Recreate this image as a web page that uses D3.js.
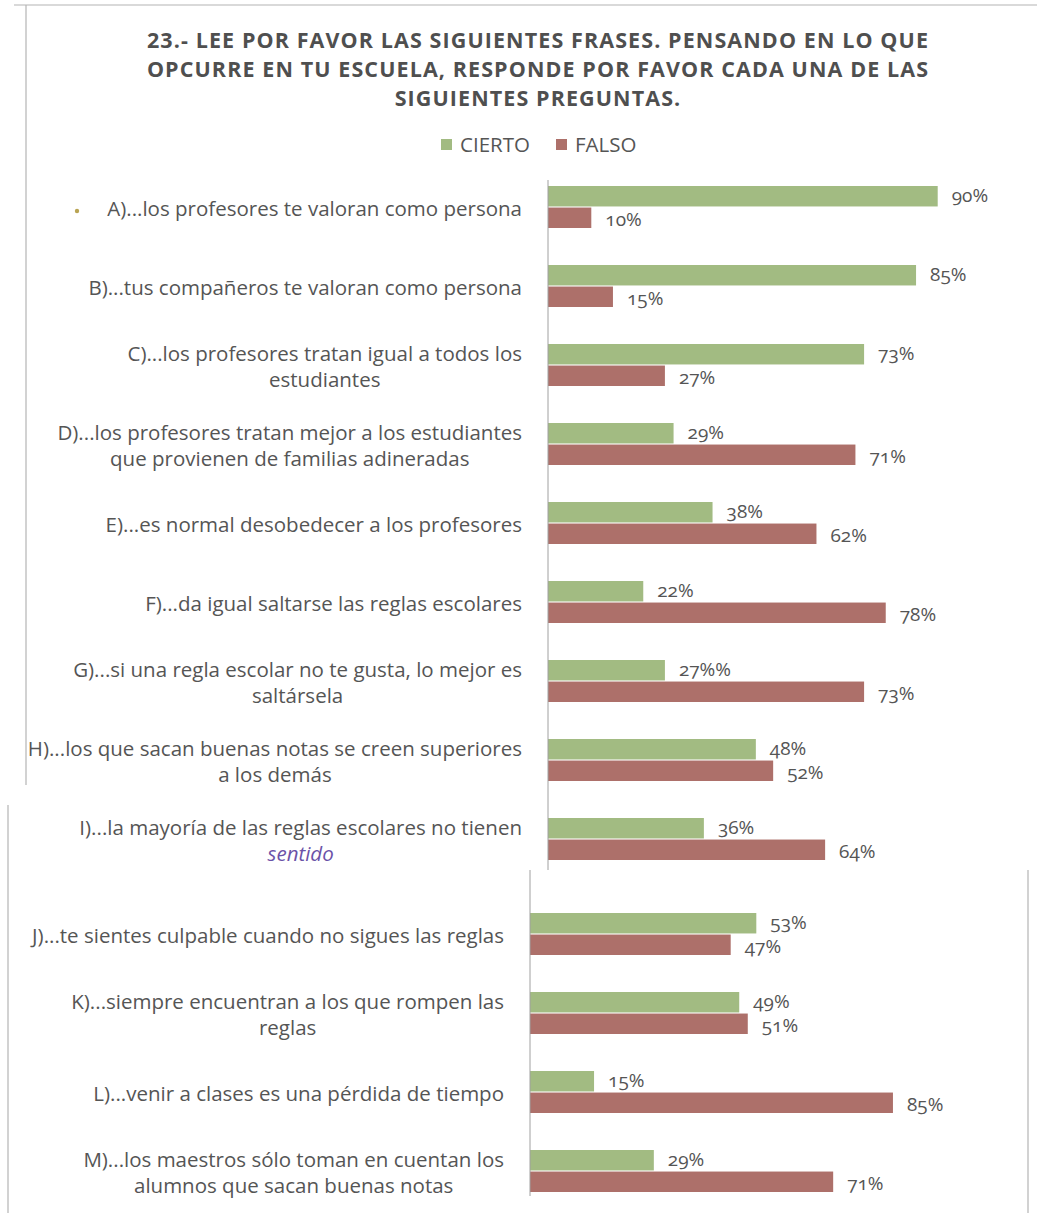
<!DOCTYPE html>
<html>
<head>
<meta charset="utf-8">
<script src="https://cdn.jsdelivr.net/npm/d3@7"></script>
<style>
  html, body { margin: 0; padding: 0; background: #ffffff; }
  svg { display: block; }
  text { font-family: "Open Sans", "Lato", sans-serif; }
</style>
</head>
<body>
<div id="chart"></div>
<script>
// ---------------- DATA ----------------
const titleLines = [
  "23.- LEE POR FAVOR LAS SIGUIENTES FRASES. PENSANDO EN LO QUE",
  "OPCURRE EN TU ESCUELA, RESPONDE POR FAVOR CADA UNA DE LAS",
  "SIGUIENTES PREGUNTAS."
];
const seriesNames = ["CIERTO", "FALSO"];
const categories = ["A","B","C","D","E","F","G","H","I","J","K","L","M"];
const categoryLabels = [
  ["A)...los profesores te valoran como persona"],
  ["B)...tus compañeros te valoran como persona"],
  ["C)...los profesores tratan igual a todos los", "estudiantes"],
  ["D)...los profesores tratan mejor a los estudiantes", "que provienen de familias adineradas"],
  ["E)...es normal desobedecer a los profesores"],
  ["F)...da igual saltarse las reglas escolares"],
  ["G)...si una regla escolar no te gusta, lo mejor es", "saltársela"],
  ["H)...los que sacan buenas notas se creen superiores", "a los demás"],
  ["I)...la mayoría de las reglas escolares no tienen", "sentido"],
  ["J)...te sientes culpable cuando no sigues las reglas"],
  ["K)...siempre encuentran a los que rompen las", "reglas"],
  ["L)...venir a clases es una pérdida de tiempo"],
  ["M)...los maestros sólo toman en cuentan los", "alumnos que sacan buenas notas"]
];
const ciertoValues = [90, 85, 73, 29, 38, 22, 27, 48, 36, 53, 49, 15, 29];
const falsoValues  = [10, 15, 27, 71, 62, 78, 73, 52, 64, 47, 51, 85, 71];
const ciertoLabels = ["90%","85%","73%","29%","38%","22%","27%%","48%","36%","53%","49%","15%","29%"];
const falsoLabels  = ["10%","15%","27%","71%","62%","78%","73%","52%","64%","47%","51%","85%","71%"];
// the scanned page is split in two shifted parts
const upperCats = ["A","B","C","D","E","F","G","H","I"];
const lowerCats = ["J","K","L","M"];

// ---------------- LAYOUT ----------------
const W = 1037, H = 1213;
const colors = { CIERTO: "#a2bb82", FALSO: "#ad706a" };
const textColor = "#555555";

const svg = d3.select("#chart").append("svg")
  .attr("width", W).attr("height", H);

// page frame (scanned sheet borders)
const frame = svg.append("g").attr("stroke", "#b4b4b4").attr("stroke-width", 1.2).attr("fill", "none");
frame.append("line").attr("x1", 14).attr("x2", W).attr("y1", 5).attr("y2", 5);
frame.append("line").attr("x1", 26).attr("x2", 26).attr("y1", 5).attr("y2", 785);
frame.append("line").attr("x1", 8).attr("x2", 8).attr("y1", 805).attr("y2", H);
frame.append("line").attr("x1", 1028).attr("x2", 1028).attr("y1", 870).attr("y2", H);

// title
svg.append("g").selectAll("text").data(titleLines).join("text")
  .attr("x", 538)
  .attr("y", (d, i) => 48 + i * 29)
  .attr("text-anchor", "middle")
  .attr("fill", "#4f4f4f")
  .attr("font-weight", "bold")
  .attr("font-size", 21.5)
  .attr("letter-spacing", 1.1)
  .text(d => d);

// legend
const legend = svg.append("g").attr("transform", "translate(441,145)");
const legendItems = legend.selectAll("g").data(seriesNames).join("g")
  .attr("transform", (d, i) => `translate(${i * 115},0)`);
legendItems.append("rect").attr("x", 0).attr("y", -6).attr("width", 11).attr("height", 11)
  .attr("fill", d => colors[d]);
legendItems.append("text").attr("x", 19).attr("y", 0).attr("dy", "0.36em")
  .attr("font-size", 20.5).attr("fill", textColor).text(d => d);

const rows = categories.map((c, i) => ({
  cat: c, lines: categoryLabels[i],
  values: [
    { key: "CIERTO", value: ciertoValues[i], label: ciertoLabels[i] },
    { key: "FALSO",  value: falsoValues[i],  label: falsoLabels[i] }
  ]
}));

function drawPanel(cats, axisX, yTop, xRange, axisTop, axisBottom, labelFont) {
  const step = 79, group = 42;
  const y = d3.scaleBand().domain(cats)
    .range([yTop, yTop + (cats.length - 1) * step + group])
    .paddingInner((step - group) / step).paddingOuter(0);
  const ys = d3.scaleBand().domain(seriesNames).range([0, y.bandwidth()]).paddingInner(0.05);
  const x = d3.scaleLinear().domain([0, 100]).range([0, xRange]);

  const g = svg.append("g").attr("transform", `translate(${axisX},0)`);
  const data = rows.filter(r => cats.includes(r.cat));

  const rowG = g.selectAll("g.row").data(data).join("g").attr("class", "row")
    .attr("transform", d => `translate(0,${y(d.cat)})`);

  rowG.selectAll("rect").data(d => d.values).join("rect")
    .attr("x", 0).attr("y", v => ys(v.key))
    .attr("width", v => x(v.value)).attr("height", ys.bandwidth())
    .attr("fill", v => colors[v.key]);

  rowG.selectAll("text.val").data(d => d.values).join("text").attr("class", "val")
    .attr("x", v => x(v.value) + 14)
    .attr("y", v => ys(v.key) + ys.bandwidth() / 2 + (v.key === "CIERTO" ? -1 : 1))
    .attr("dy", "0.36em")
    .attr("font-size", 19)
    .attr("fill", textColor)
    .style("font-variant-numeric", "oldstyle-nums")
    .text(v => v.label);

  // axis line
  g.append("line").attr("x1", 0).attr("x2", 0).attr("y1", axisTop).attr("y2", axisBottom)
    .attr("stroke", "#a0a0a0").attr("stroke-width", 1);

  // category labels: block centered, right edge at axis - 26
  const rightEdge = -26;
  const lab = rowG.append("text")
    .attr("font-size", labelFont)
    .attr("fill", textColor);
  lab.each(function(d) {
    const t = d3.select(this);
    const n = d.lines.length;
    const mid = y.bandwidth() / 2 + 2;
    d.lines.forEach((ln, i) => {
      const ts = t.append("tspan")
        .attr("y", mid + (i - (n - 1) / 2) * 26)
        .attr("dy", "0.36em")
        .attr("text-anchor", "middle")
        .text(ln);
      if (d.cat === "I" && i === 1) {
        ts.attr("font-style", "italic").attr("fill", "#6b52a8");
      }
    });
    let maxW = 0;
    t.selectAll("tspan").each(function() { maxW = Math.max(maxW, this.getComputedTextLength()); });
    t.selectAll("tspan").attr("x", rightEdge - maxW / 2);
  });
  return g;
}

drawPanel(upperCats, 548, 186, 433, 180, 870, 20.5);
drawPanel(lowerCats, 530, 913, 427, 870, 1196, 20.5);

// small stray bullet from the original page
svg.append("circle").attr("cx", 77).attr("cy", 211).attr("r", 2.2).attr("fill", "#b9a453");
</script>
</body>
</html>
